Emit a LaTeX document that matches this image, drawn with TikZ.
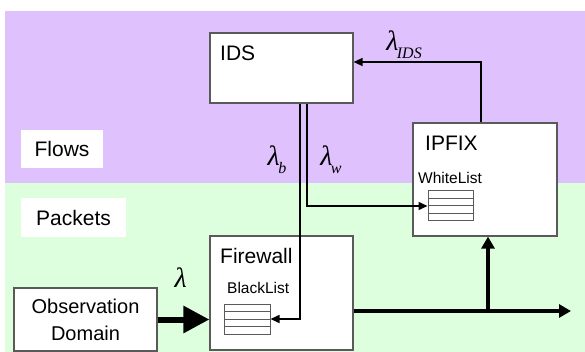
\documentclass[tikz,border=0pt]{standalone}
\usepackage{fontspec}
\setmainfont{Liberation Sans}
\newfontfamily\serifgrec{Liberation Serif}
\usetikzlibrary{arrows.meta,calc}

\definecolor{fondflux}{RGB}{223,193,253}
\definecolor{fondpaquets}{RGB}{222,255,222}
\definecolor{bord}{RGB}{90,90,90}

% lambda with an optional italic subscript
\newcommand{\lam}[1]{{\serifgrec\itshape\fontsize{28}{28}\selectfont λ\kern-1.5pt\raisebox{-0.3em}{\fontsize{16}{16}\selectfont #1}}}

\begin{document}
\begin{tikzpicture}[x=1pt,y=-1pt]
\tikzset{boite/.style={draw=bord, line width=1.2pt, fill=white, inner sep=0pt},
  titre/.style={anchor=west, inner sep=0pt, font=\fontsize{21}{24}\selectfont},
  soustitre/.style={anchor=west, inner sep=0pt, font=\fontsize{15.5}{18}\selectfont},
  etiquette/.style={fill=white, inner sep=0pt, font=\fontsize{21}{24}\selectfont},
  liste/.style={draw=bord, line width=1pt, fill=white, inner sep=0pt,
    path picture={\foreach \k in {1,2,3}
      \draw[line width=1pt] ($(path picture bounding box.north west)!\k/4!(path picture bounding box.south west)$)
        -- ($(path picture bounding box.north east)!\k/4!(path picture bounding box.south east)$);}},
  fil/.style={line width=1.5pt, -{Triangle[length=9pt,width=8pt]}},
  gros/.style={line width=6pt, -{Triangle[length=26pt,width=26pt]}},
  sortie/.style={line width=4pt, -{Triangle[length=12pt,width=13pt]}}}
\useasboundingbox (0,0) rectangle (585,352);
% the two layers
\fill[fondflux] (5,11) rectangle (585,183);
\fill[fondpaquets] (5,183) rectangle (585,352);
\node[etiquette, minimum width=82pt, minimum height=38pt] (Flows) at (62,149) {Flows};
\node[etiquette, minimum width=105pt, minimum height=39pt] (Packets) at (73.5,217.5) {Packets};

% boxes
\node[boite, minimum width=143pt, minimum height=70pt] (IDS) at (281.5,68) {};
\node[boite, minimum width=144pt, minimum height=113pt] (IPFIX) at (485,179.5) {};
\node[boite, minimum width=143pt, minimum height=114pt] (FW) at (281.5,293) {};
\node[boite, minimum width=143pt, minimum height=63pt, align=center,
  font=\fontsize{20}{27}\selectfont] (OD) at (85.5,319.5) {Observation\\Domain};
\node[titre] (tIDS) at (220,53) {IDS};
\node[titre] (tIPFIX) at (425,143) {IPFIX};
\node[titre] (tFW) at (220,256) {Firewall};
\node[soustitre] (tWL) at (418,178) {WhiteList};
\node[soustitre] (tBL) at (227,288) {BlackList};
\node[liste, minimum width=45pt, minimum height=30pt] (WL) at (450.5,206) {};
\node[liste, minimum width=46pt, minimum height=30pt] (BL) at (247,319) {};

% connectors
\coordinate (cIDS) at (481,62);
\coordinate (cb) at (300,0);
\coordinate (cw) at (307,0);
\coordinate (jn) at (488,311);
\coordinate (out) at (571,311);
\draw[fil] (IPFIX.north -| cIDS) |- (IDS.east |- cIDS);
\draw[fil] (IDS.south -| cb) |- (BL.east);
\draw[fil] (IDS.south -| cw) |- (WL.west);
\draw[gros] (OD.east) -- (OD.east -| FW.west);
\draw[sortie] (FW.east |- jn) -- (out);
\draw[sortie] (jn) -- (IPFIX.south -| jn);

% rates
\node (l) at (180,282) {\lam{}};
\node (lb) at (277,160) {\lam{b}};
\node (lw) at (331,160) {\lam{w}};
\node (lIDS) at (404,45) {\lam{IDS}};
\end{tikzpicture}
\end{document}
